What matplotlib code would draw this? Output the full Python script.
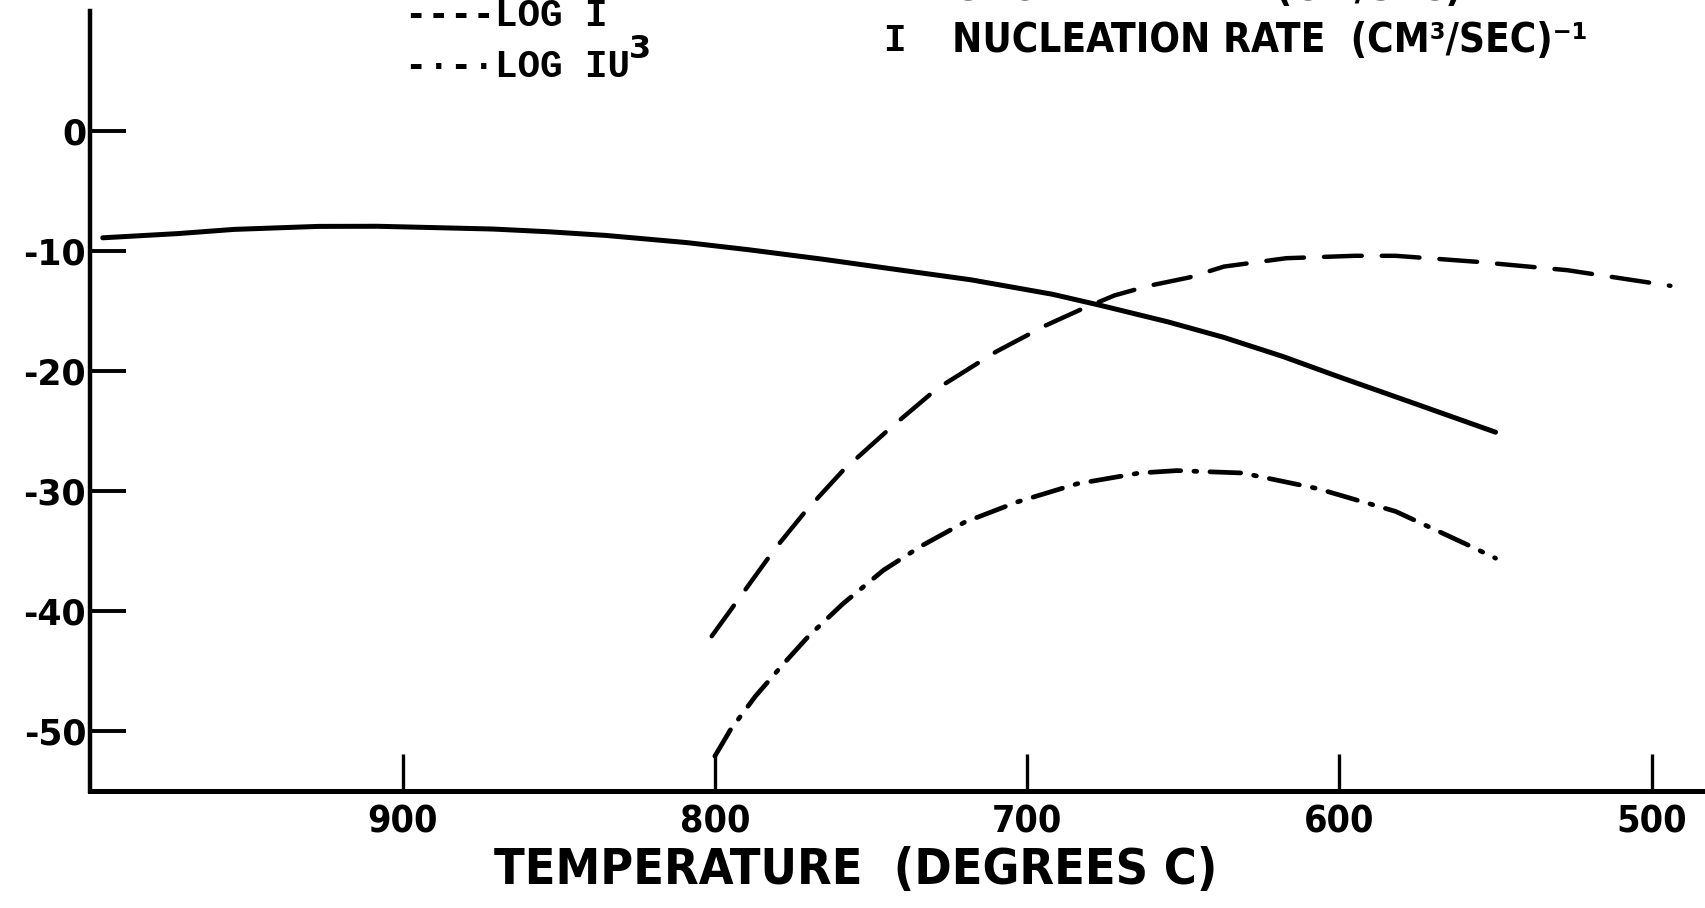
import numpy as np
import matplotlib
matplotlib.use('Agg')
import matplotlib.pyplot as plt

# Data (temperature in deg C, log values)

t_u = [996, 972, 954, 927, 908, 890, 871, 853, 835, 809, 789, 765, 743, 718, 692, 677,
       655, 637, 618, 600, 576, 550]
log_u = [-8.9, -8.55, -8.2, -7.95, -7.94, -8.05, -8.17, -8.4, -8.7, -9.3, -9.9, -10.7,
         -11.5, -12.4, -13.6, -14.5, -15.9, -17.2, -18.8, -20.5, -22.7, -25.1]

t_i = [801, 791, 781, 771, 759, 744, 729, 710, 694, 683, 672, 661, 648, 637, 617, 595,
       582, 556, 527, 494]
log_i = [-42.1, -38.5, -34.9, -31.7, -28.3, -24.8, -21.5, -18.4, -16.2, -14.9, -13.7,
         -12.9, -12.2, -11.3, -10.6, -10.4, -10.4, -10.9, -11.6, -12.9]

t_iu3 = [800, 795, 787, 778, 770, 759, 746, 734, 720, 703, 684, 664, 652, 631,
         607, 582, 558, 550]
log_iu3 = [-52.1, -49.9, -47.1, -44.4, -42.1, -39.4, -36.6, -34.6, -32.6, -30.9,
           -29.4, -28.5, -28.3, -28.5, -29.8, -31.7, -34.6, -35.6]

xticks = [900, 800, 700, 600, 500]
yticks = [0, -10, -20, -30, -40, -50]

W, H = 1706, 908
fig = plt.figure(figsize=(W / 100, H / 100), dpi=100)
ax = fig.add_axes([90.3 / W, 1 - 791 / H, (W - 90.3) / W, 780 / H])

ax.plot(t_u, log_u, color='black', lw=3.6, solid_capstyle='round', solid_joinstyle='round')
ax.plot(t_i, log_i, color='black', lw=3.2, dashes=(8.5, 4.5), dash_capstyle='round')
ax.plot(t_iu3, log_iu3, color='black', lw=3.4, dashes=(6.5, 2.8, 0.6, 2.8), dash_capstyle='round')

ax.set_xlim(1000, 482.6)
ax.set_ylim(-55, 10)

for s in ['top', 'right']:
    ax.spines[s].set_visible(False)
ax.spines['left'].set_linewidth(3.2)
ax.spines['bottom'].set_linewidth(3.6)

lettering = dict(family='DejaVu Sans', weight='bold')
ax.set_xticks(xticks)
ax.set_xticklabels([str(t) for t in xticks], fontsize=27, stretch='condensed', **lettering)
ax.set_yticks(yticks)
ax.set_yticklabels([str(v) for v in yticks], fontsize=25, **lettering)
ax.tick_params(axis='x', direction='in', length=27, width=2.4, pad=10)
ax.tick_params(axis='y', direction='in', length=26, width=2.8, pad=3)

fig.text(856 / W, 1 - 870 / H, 'TEMPERATURE  (DEGREES C)', ha='center', va='center',
         fontsize=36, stretch='condensed', **lettering)

# legend block (typewriter) and definitions
mono = dict(family='Liberation Mono', weight='bold', fontsize=27)
fig.text(405 / W, 1 - 16 / H, '----LOG I', ha='left', va='center', **mono)
fig.text(405 / W, 1 - 67 / H, '-·-·LOG IU', ha='left', va='center', **mono)
fig.text(629 / W, 1 - 50 / H, '3', ha='left', va='center', fontsize=23, **lettering)

fig.text(894 / W, 1 + 11 / H, 'U', ha='center', va='center', **mono)
fig.text(952 / W, 1 + 11 / H, 'GROWTH RATE  (CM/SEC)', ha='left', va='center',
         fontsize=29, stretch='condensed', **lettering)
fig.text(894 / W, 1 - 41 / H, 'I', ha='center', va='center', **mono)
fig.text(952 / W, 1 - 41 / H, 'NUCLEATION RATE  (CM³/SEC)⁻¹', ha='left', va='center',
         fontsize=29, stretch='condensed', **lettering)

fig.savefig('out.png', dpi=100)
